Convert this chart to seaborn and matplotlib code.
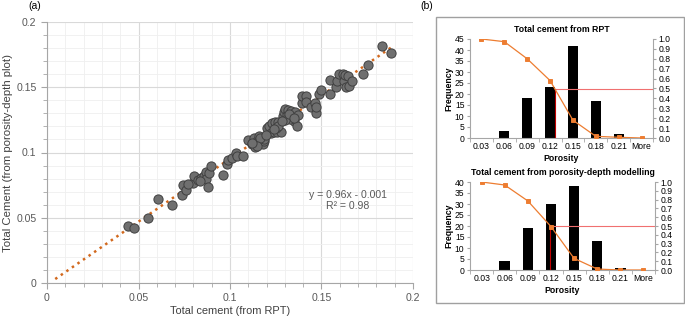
import numpy as np
import pandas as pd
import matplotlib
matplotlib.use("Agg")
import matplotlib.pyplot as plt
from matplotlib.patches import Rectangle
from matplotlib.ticker import MultipleLocator, FormatStrFormatter
import seaborn as sns

# Scatter data: total cement from RPT (x) vs from porosity-depth plot (y)
cement_rpt = [
    0.0442, 0.0473, 0.0551, 0.0604, 0.0682, 0.0736, 0.0745, 0.0758, 0.0796, 0.0804,
    0.0827, 0.0842, 0.0858, 0.0867, 0.0867, 0.0882, 0.0887, 0.0898, 0.0960, 0.0982,
    0.0989, 0.1009, 0.1033, 0.1040, 0.1073, 0.1100, 0.1118, 0.1131, 0.1136, 0.1149,
    0.1156, 0.1167, 0.1178, 0.1185, 0.1200, 0.1215, 0.1222, 0.1227, 0.1240, 0.1245,
    0.1258, 0.1265, 0.1276, 0.1287, 0.1295, 0.1300, 0.1309, 0.1318, 0.1327, 0.1331,
    0.1342, 0.1349, 0.1356, 0.1367, 0.1373, 0.1391, 0.1396, 0.1415, 0.1418, 0.1440,
    0.1464, 0.1469, 0.1469, 0.1487, 0.1495, 0.1545, 0.1545, 0.1578, 0.1587, 0.1596,
    0.1615, 0.1624, 0.1631, 0.1636, 0.1645, 0.1651, 0.1669, 0.1727, 0.1755, 0.1833,
    0.1882, 0.1185, 0.1163, 0.1145, 0.1250, 0.1262, 0.1330, 0.1300, 0.1320, 0.1285,
    0.1122, 0.1195, 0.1238, 0.1350, 0.0835, 0.0770,
]
cement_depth = [
    0.0434, 0.0421, 0.0498, 0.0644, 0.0600, 0.0677, 0.0753, 0.0710, 0.0766, 0.0817,
    0.0792, 0.0805, 0.0817, 0.0851, 0.0797, 0.0733, 0.0843, 0.0894, 0.0830, 0.0914,
    0.0945, 0.0955, 0.0996, 0.0971, 0.0976, 0.1098, 0.1068, 0.1111, 0.1040, 0.1086,
    0.1129, 0.1098, 0.1068, 0.1086, 0.1188, 0.1206, 0.1149, 0.1226, 0.1155, 0.1231,
    0.1155, 0.1231, 0.1155, 0.1282, 0.1308, 0.1333, 0.1290, 0.1328, 0.1264, 0.1315,
    0.1282, 0.1239, 0.1308, 0.1206, 0.1290, 0.1379, 0.1430, 0.1430, 0.1384, 0.1349,
    0.1379, 0.1303, 0.1349, 0.1451, 0.1481, 0.1553, 0.1451, 0.1499, 0.1545, 0.1604,
    0.1604, 0.1545, 0.1596, 0.1502, 0.1584, 0.1512, 0.1545, 0.1604, 0.1673, 0.1814,
    0.1762, 0.1106, 0.1112, 0.1052, 0.1190, 0.1200, 0.1255, 0.1250, 0.1295, 0.1245,
    0.1075, 0.1135, 0.1180, 0.1265, 0.0780, 0.0755,
]
trend_x_start = 0.0045
equation_text = "y = 0.96x - 0.001\nR\u00b2 = 0.98"

# Histogram data
porosity_bins = ["0.03", "0.06", "0.09", "0.12", "0.15", "0.18", "0.21", "More"]
freq_rpt = [0, 3, 18, 23, 42, 17, 2, 0]
frac_rpt = [1.0, 0.973, 0.80, 0.58, 0.18, 0.017, 0.007, 0.0]
freq_depth = [0, 4, 19, 30, 38, 13, 1, 0]
frac_depth = [1.0, 0.966, 0.785, 0.494, 0.132, 0.011, 0.0, 0.0]

plt.rcParams["font.family"] = ["Liberation Sans", "DejaVu Sans"]

W, H = 685, 316
fig = plt.figure(figsize=(W / 100, H / 100), dpi=100)


def px_axes(left, top, right, bottom):
    return fig.add_axes([left / W, 1 - bottom / H, (right - left) / W, (bottom - top) / H])


# ---------- (a) scatter ----------
ax = px_axes(47, 22, 413, 283)
df = pd.DataFrame({"rpt": cement_rpt, "depth": cement_depth})
ax.set_axisbelow(True)
ax.xaxis.set_minor_locator(MultipleLocator(0.01))
ax.yaxis.set_minor_locator(MultipleLocator(0.01))
ax.grid(which="major", color="#d9d9d9", lw=0.8)
ax.grid(which="minor", color="#efefef", lw=0.6)

slope, intercept = np.polyfit(df["rpt"], df["depth"], 1)
tx = np.linspace(trend_x_start, df["rpt"].max(), 50)
ax.plot(tx, slope * tx + intercept, ls=(0, (1, 1.7)), color="#d2691e", lw=1.8, zorder=1)

sns.scatterplot(data=df, x="rpt", y="depth", ax=ax, s=44, color="#6f6f6f",
                edgecolor="#404040", linewidth=0.7, zorder=3)

ax.set_xlim(0, 0.2)
ax.set_ylim(0, 0.2)
ticks = [0, 0.05, 0.1, 0.15, 0.2]
ax.set_xticks(ticks, ["0", "0.05", "0.1", "0.15", "0.2"])
ax.set_yticks(ticks, ["0", "0.05", "0.1", "0.15", "0.2"])
ax.tick_params(which="both", direction="out", color="#a6a6a6", labelcolor="#595959",
               labelsize=7.6)
ax.tick_params(which="major", length=4)
ax.tick_params(which="minor", length=3)
for s in ["top", "right"]:
    ax.spines[s].set_visible(False)
for s in ["left", "bottom"]:
    ax.spines[s].set_color("#a6a6a6")
ax.set_xlabel("Total cement (from RPT)", fontsize=7.9, color="#404040", labelpad=2)
ax.set_ylabel("Total Cement (from porosity-depth plot)", fontsize=8.2, color="#404040",
              labelpad=2)
ax.text(0.1645, 0.0635, equation_text, ha="center", va="center", fontsize=7.6,
        color="#595959", linespacing=1.15)
fig.text(35 / W, 1 - 6 / H, "(a)", fontsize=7.5, ha="center", va="center")

# ---------- (b) histograms ----------
fig.patches.append(Rectangle((436 / W, 1 - 303 / H), 248 / W, 286 / H,
                             transform=fig.transFigure, fill=False,
                             edgecolor="#a0a0a0", lw=1.0))
fig.text(427 / W, 1 - 6 / H, "(b)", fontsize=7.5, ha="center", va="center")


def hist_panel(box, title, freq, frac, ymax):
    axh = px_axes(*box)
    hd = pd.DataFrame({"Porosity": porosity_bins, "Frequency": freq, "frac": frac})
    sns.barplot(data=hd, x="Porosity", y="Frequency", order=porosity_bins, color="black",
                width=0.45, saturation=1, ax=axh)
    axh.set_ylim(0, ymax)
    axh.yaxis.set_major_locator(MultipleLocator(5))
    axh.set_xlim(-0.5, len(porosity_bins) - 0.5)
    axh.set_xticks(range(len(porosity_bins)), porosity_bins)
    axh.set_xticks(np.arange(-0.5, len(porosity_bins)), minor=True)
    axh.tick_params(axis="x", which="major", length=0, labelsize=6.2, pad=3)
    axh.tick_params(axis="x", which="minor", length=3, color="#a6a6a6")
    axh.tick_params(axis="y", length=2.5, color="#a6a6a6", labelsize=6.2, pad=1.5)
    for s in ["top", "right"]:
        axh.spines[s].set_visible(False)
    for s in ["left", "bottom"]:
        axh.spines[s].set_color("#a6a6a6")
    axh.set_xlabel("Porosity", fontsize=6.3, fontweight="bold", labelpad=2)
    axh.set_ylabel("Frequency", fontsize=6.3, fontweight="bold", labelpad=1)
    axh.set_title(title, fontsize=6.3, fontweight="bold", pad=5)

    ax2 = axh.twinx()
    sns.pointplot(data=hd, x="Porosity", y="frac", order=porosity_bins, color="#ed7d31",
                  markers="s", markersize=2.5, linewidth=0.9, ax=ax2)
    ax2.set_xlim(-0.5, len(porosity_bins) - 0.5)
    ax2.set_ylim(0, 1.0)
    ax2.yaxis.set_major_locator(MultipleLocator(0.1))
    ax2.yaxis.set_major_formatter(FormatStrFormatter("%.1f"))
    ax2.tick_params(axis="y", length=2.5, color="#a6a6a6", labelsize=6.2, pad=1.5)
    ax2.set_ylabel("")
    for s in ["top", "left", "bottom"]:
        ax2.spines[s].set_visible(False)
    ax2.spines["right"].set_color("#a6a6a6")

    # median (0.5 crossing) guide lines
    xs = np.arange(len(frac))
    cross = np.interp(0.5, np.array(frac)[::-1], xs[::-1])
    ax2.plot([cross, len(frac) - 0.5], [0.5, 0.5], color="#f07070", lw=0.8, zorder=1)
    ax2.plot([cross, cross], [0, 0.5], color="#c00000", lw=0.8, zorder=1)


hist_panel((470, 39, 653, 138), "Total cement from RPT", freq_rpt, frac_rpt, 45)
hist_panel((470, 182, 655, 270), "Total cement from porosity-depth modelling",
           freq_depth, frac_depth, 40)

fig.savefig("out.png", dpi=100)
